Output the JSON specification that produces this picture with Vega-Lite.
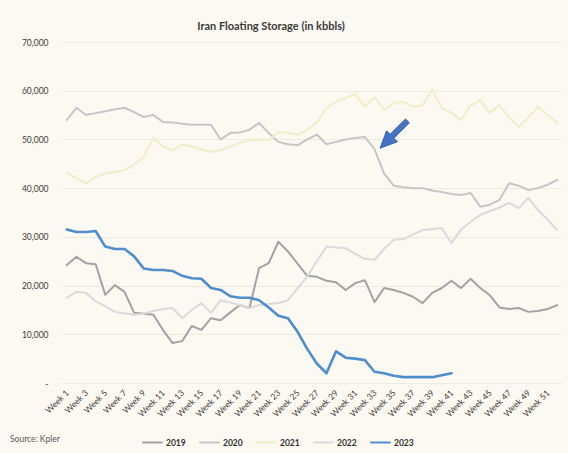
{
  "$schema": "https://vega.github.io/schema/vega-lite/v6.json",
  "width": 500,
  "height": 341,
  "autosize": {"type": "none"},
  "padding": {"left": 62, "top": 42, "right": 6, "bottom": 70},
  "background": "#fcf9f2",
  "title": {
    "text": "Iran Floating Storage (in kbbls)",
    "anchor": "middle",
    "frame": "group",
    "dx": -41,
    "offset": 6,
    "fontSize": 11,
    "font": "Lato",
    "fontWeight": "bold",
    "color": "#3a3a3a"
  },
  "datasets": {
    "storage": [
      {"week": 1, "2019": 24200, "2020": 54000, "2021": 43300, "2022": 17500, "2023": 31500},
      {"week": 2, "2019": 25900, "2020": 56500, "2021": 42000, "2022": 18700, "2023": 31000},
      {"week": 3, "2019": 24600, "2020": 55000, "2021": 41000, "2022": 18500, "2023": 31000},
      {"week": 4, "2019": 24400, "2020": 55400, "2021": 42300, "2022": 16800, "2023": 31200},
      {"week": 5, "2019": 18100, "2020": 55800, "2021": 43000, "2022": 15800, "2023": 28000},
      {"week": 6, "2019": 20100, "2020": 56200, "2021": 43300, "2022": 14600, "2023": 27500},
      {"week": 7, "2019": 18700, "2020": 56500, "2021": 43700, "2022": 14300, "2023": 27500},
      {"week": 8, "2019": 14400, "2020": 55600, "2021": 44800, "2022": 14000, "2023": 26000},
      {"week": 9, "2019": 14200, "2020": 54600, "2021": 46400, "2022": 14200, "2023": 23500},
      {"week": 10, "2019": 14000, "2020": 55000, "2021": 50300, "2022": 14800, "2023": 23200},
      {"week": 11, "2019": 10900, "2020": 53600, "2021": 48500, "2022": 15200, "2023": 23200},
      {"week": 12, "2019": 8200, "2020": 53500, "2021": 47800, "2022": 15400, "2023": 23000},
      {"week": 13, "2019": 8600, "2020": 53200, "2021": 48900, "2022": 13300, "2023": 22000},
      {"week": 14, "2019": 11700, "2020": 53000, "2021": 48600, "2022": 15000, "2023": 21500},
      {"week": 15, "2019": 10900, "2020": 53000, "2021": 48000, "2022": 16400, "2023": 21400},
      {"week": 16, "2019": 13300, "2020": 53000, "2021": 47400, "2022": 14400, "2023": 19500},
      {"week": 17, "2019": 12900, "2020": 50000, "2021": 47800, "2022": 17000, "2023": 19100},
      {"week": 18, "2019": 14500, "2020": 51300, "2021": 48500, "2022": 16500, "2023": 17800},
      {"week": 19, "2019": 16000, "2020": 51400, "2021": 49300, "2022": 16000, "2023": 17500},
      {"week": 20, "2019": 15400, "2020": 52000, "2021": 49900, "2022": 15400, "2023": 17500},
      {"week": 21, "2019": 23600, "2020": 53400, "2021": 50000, "2022": 16000, "2023": 17000},
      {"week": 22, "2019": 24600, "2020": 51300, "2021": 49900, "2022": 16200, "2023": 15500},
      {"week": 23, "2019": 29000, "2020": 49500, "2021": 51500, "2022": 16400, "2023": 13800},
      {"week": 24, "2019": 27000, "2020": 49000, "2021": 51300, "2022": 17000, "2023": 13300},
      {"week": 25, "2019": 24500, "2020": 48800, "2021": 51000, "2022": 19500, "2023": 10500},
      {"week": 26, "2019": 22000, "2020": 50000, "2021": 52000, "2022": 21800, "2023": 7000},
      {"week": 27, "2019": 21800, "2020": 51000, "2021": 53500, "2022": 25000, "2023": 4000},
      {"week": 28, "2019": 21000, "2020": 49000, "2021": 56500, "2022": 28000, "2023": 2000},
      {"week": 29, "2019": 20700, "2020": 49500, "2021": 57700, "2022": 27800, "2023": 6500},
      {"week": 30, "2019": 19100, "2020": 50000, "2021": 58500, "2022": 27700, "2023": 5200},
      {"week": 31, "2019": 20500, "2020": 50300, "2021": 59300, "2022": 26500, "2023": 5000},
      {"week": 32, "2019": 21100, "2020": 50500, "2021": 56700, "2022": 25500, "2023": 4700},
      {"week": 33, "2019": 16600, "2020": 48000, "2021": 58700, "2022": 25300, "2023": 2300},
      {"week": 34, "2019": 19500, "2020": 43000, "2021": 56000, "2022": 27500, "2023": 2000},
      {"week": 35, "2019": 19100, "2020": 40500, "2021": 57500, "2022": 29400, "2023": 1500},
      {"week": 36, "2019": 18500, "2020": 40200, "2021": 57700, "2022": 29500, "2023": 1200},
      {"week": 37, "2019": 17700, "2020": 40000, "2021": 56700, "2022": 30500, "2023": 1200},
      {"week": 38, "2019": 16400, "2020": 40000, "2021": 57000, "2022": 31400, "2023": 1200},
      {"week": 39, "2019": 18500, "2020": 39500, "2021": 60200, "2022": 31600, "2023": 1200},
      {"week": 40, "2019": 19500, "2020": 39200, "2021": 56500, "2022": 31800, "2023": 1600},
      {"week": 41, "2019": 21000, "2020": 38800, "2021": 55400, "2022": 28700, "2023": 2000},
      {"week": 42, "2019": 19500, "2020": 38600, "2021": 54000, "2022": 31500},
      {"week": 43, "2019": 21400, "2020": 39000, "2021": 57000, "2022": 33100},
      {"week": 44, "2019": 19500, "2020": 36200, "2021": 58000, "2022": 34500},
      {"week": 45, "2019": 18000, "2020": 36600, "2021": 55400, "2022": 35300},
      {"week": 46, "2019": 15500, "2020": 37600, "2021": 57000, "2022": 36000},
      {"week": 47, "2019": 15200, "2020": 41000, "2021": 54600, "2022": 37000},
      {"week": 48, "2019": 15400, "2020": 40500, "2021": 52600, "2022": 35900},
      {"week": 49, "2019": 14600, "2020": 39600, "2021": 54500, "2022": 38000},
      {"week": 50, "2019": 14800, "2020": 40000, "2021": 56700, "2022": 35500},
      {"week": 51, "2019": 15200, "2020": 40700, "2021": 55000, "2022": 33500},
      {"week": 52, "2019": 16000, "2020": 41700, "2021": 53400, "2022": 31400}
    ],
    "arrow": [{"week": 35, "value": 51000}]
  },
  "layer": [
    {
      "data": {"name": "storage"},
      "transform": [
        {"fold": ["2019", "2020", "2021", "2022", "2023"], "as": ["year", "value"]},
        {"filter": "isValid(datum.value)"}
      ],
      "mark": {"type": "line", "strokeJoin": "round", "strokeCap": "round"},
      "encoding": {
        "x": {
          "field": "week",
          "type": "ordinal",
          "sort": "ascending",
          "scale": {"type": "point", "padding": 0.5},
          "axis": {
            "title": null,
            "values": [1, 3, 5, 7, 9, 11, 13, 15, 17, 19, 21, 23, 25, 27, 29, 31, 33, 35, 37, 39, 41, 43, 45, 47, 49, 51],
            "labelExpr": "'Week ' + datum.value",
            "labelAngle": -45,
            "labelAlign": "right",
            "labelBaseline": "middle",
            "labelPadding": 8,
            "labelFont": "Lato",
            "labelFontSize": 8.5,
            "labelColor": "#3c3c3c",
            "labelOverlap": false,
            "grid": false,
            "ticks": false,
            "domain": false
          }
        },
        "y": {
          "field": "value",
          "type": "quantitative",
          "scale": {"domain": [0, 70000], "nice": false},
          "axis": {
            "title": null,
            "values": [0, 10000, 20000, 30000, 40000, 50000, 60000, 70000],
            "labelExpr": "datum.value == 0 ? '-' : format(datum.value, ',')",
            "labelFont": "Lato",
            "labelFontSize": 8.5,
            "labelColor": "#3c3c3c",
            "labelPadding": 14,
            "domain": false,
            "ticks": false,
            "gridColor": "#eeeae2",
            "gridWidth": 1
          }
        },
        "color": {
          "field": "year",
          "type": "nominal",
          "scale": {
            "domain": ["2019", "2020", "2021", "2022", "2023"],
            "range": ["#a3a3a3", "#c6c6c6", "#f1edc9", "#dadada", "#4f8dcb"]
          },
          "legend": {
            "title": "Source: Kpler",
            "titleOrient": "left",
            "titleFont": "Lato",
            "titleFontWeight": "normal",
            "titleFontSize": 8.5,
            "titleColor": "#555555",
            "titlePadding": 81,
            "orient": "none",
            "legendX": -52,
            "legendY": 389,
            "direction": "horizontal",
            "symbolType": "stroke",
            "symbolSize": 420,
            "symbolStrokeWidth": 2,
            "labelFont": "Lato",
            "labelFontSize": 8.5,
            "labelFontWeight": "bold",
            "labelColor": "#333333",
            "labelOffset": 2,
            "columnPadding": 9
          }
        },
        "strokeWidth": {
          "condition": {"test": "datum.year == '2023'", "value": 2.6},
          "value": 2
        }
      }
    },
    {
      "data": {"name": "arrow"},
      "mark": {"type": "point", "shape": "arrow", "filled": true, "angle": 225, "size": 1500, "color": "#4472c4", "stroke": "#2f5597", "strokeWidth": 0.8, "opacity": 1},
      "encoding": {
        "x": {"field": "week", "type": "ordinal"},
        "y": {"field": "value", "type": "quantitative"}
      }
    }
  ],
  "config": {
    "view": {"stroke": null},
    "font": "Lato",
    "axis": {"labelOverlap": false}
  }
}
